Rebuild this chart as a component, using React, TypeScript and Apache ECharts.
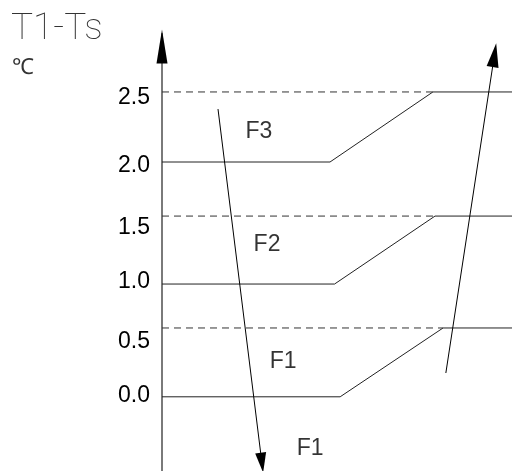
import React, { useEffect, useRef } from "react";
import * as echarts from "echarts";

// y-axis tick labels (schematic positions as drawn in the source figure)
const tickLabels = ["0.0", "0.5", "1.0", "1.5", "2.0", "2.5"];
const tickLabelPositions = [0.027, 0.465, 0.961, 1.401, 1.907, 2.461];

// switching levels: lower (solid start) and upper (dashed / solid end)
const lowerLevels = [0, 0.924, 1.924];
const upperLevels = [0.564, 1.481, 2.498];
const rampStartX = [50.9, 49.3, 48];
const rampEndX = [80.3, 78, 77.4];
const xMaxVal = 100;

// zone labels
const zoneLabels = ["F3", "F2", "F1", "F1"];
const zoneLabelX = [27.7, 30, 34.6, 42.3];
const zoneLabelY = [2.186, 1.26, 0.302, -0.411];

// direction arrows (start, arrow-head centre)
const downArrow = [
  [16, 2.358],
  [28.54, -0.54],
];
const upArrow = [
  [81.1, 0.195],
  [94.97, 2.8],
];

const yMin = -0.608;
const yMax = 2.973;
const axisArrowY = 2.87;

export default function App() {
  const ref = useRef<HTMLDivElement>(null);

  useEffect(() => {
    if (!ref.current) return;
    const chart = echarts.init(ref.current, undefined, { renderer: "svg" });

    const series: any[] = [];
    for (let i = 0; i < lowerLevels.length; i++) {
      series.push({
        type: "line",
        data: [
          [0, lowerLevels[i]],
          [rampStartX[i], lowerLevels[i]],
          [rampEndX[i], upperLevels[i]],
          [xMaxVal, upperLevels[i]],
        ],
        symbol: "none",
        silent: true,
        lineStyle: { color: "#222", width: 1 },
      });
      series.push({
        type: "line",
        data: [
          [0, upperLevels[i]],
          [rampEndX[i], upperLevels[i]],
        ],
        symbol: "none",
        silent: true,
        lineStyle: { color: "#333", width: 1, type: [7, 5] },
      });
    }

    series.push({
      type: "scatter",
      data: zoneLabels.map((n, i) => ({ name: n, value: [zoneLabelX[i], zoneLabelY[i]] })),
      symbolSize: 1,
      itemStyle: { color: "transparent" },
      silent: true,
      label: {
        show: true,
        position: "inside",
        formatter: (p: any) => p.name,
        fontSize: 23,
        color: "#000",
        fontFamily: "Liberation Sans, Arial, sans-serif",
      },
    });

    series.push({
      type: "line",
      data: [],
      silent: true,
      markLine: {
        silent: true,
        animation: false,
        label: { show: false },
        emphasis: { disabled: true },
        data: [
          [
            { coord: downArrow[0], symbol: "none" },
            { coord: downArrow[1], symbol: "triangle", symbolSize: [11, 20] },
          ],
          [
            { coord: upArrow[0], symbol: "none" },
            { coord: upArrow[1], symbol: "triangle", symbolSize: [12, 24] },
          ],
          [
            { coord: [0, axisArrowY - 0.1], symbol: "none" },
            { coord: [0, axisArrowY], symbol: "triangle", symbolSize: [11, 34] },
          ],
        ],
        lineStyle: { color: "#000", width: 1, type: "solid" },
        itemStyle: { color: "#000" },
      },
    });

    chart.setOption({
      animation: false,
      grid: { left: 162, right: 0, top: 34, bottom: 0 },
      xAxis: {
        type: "value",
        min: 0,
        max: xMaxVal,
        show: false,
      },
      yAxis: {
        type: "value",
        min: yMin,
        max: yMax,
        axisLine: {
          show: true,
          onZero: false,
          lineStyle: { color: "#7a7a7a", width: 2 },
        },
        axisTick: { show: false },
        splitLine: { show: false },
        axisLabel: {
          customValues: tickLabelPositions,
          formatter: (v: number) => {
            const i = tickLabelPositions.findIndex((p) => Math.abs(p - v) < 1e-6);
            return i >= 0 ? tickLabels[i] : "";
          },
          fontSize: 23,
          color: "#000",
          margin: 12,
          fontFamily: "Liberation Sans, Arial, sans-serif",
        },
      },
      graphic: [
        {
          type: "text",
          left: 11,
          top: 8,
          style: {
            text: "T1-Ts",
            fontSize: 37,
            fontFamily: "Roboto",
            fontWeight: 100,
            fill: "#333",
          },
        },
        {
          type: "text",
          left: 12,
          top: 55,
          style: {
            text: "℃",
            fontSize: 22,
            fontFamily: "Roboto",
            fontWeight: 100,
            fill: "#333",
          },
        },
      ],
      series,
    });

    return () => chart.dispose();
  }, []);

  return (
    <div
      ref={ref}
      style={{ position: "fixed", left: 0, top: 0, width: 512, height: 471 }}
    />
  );
}
